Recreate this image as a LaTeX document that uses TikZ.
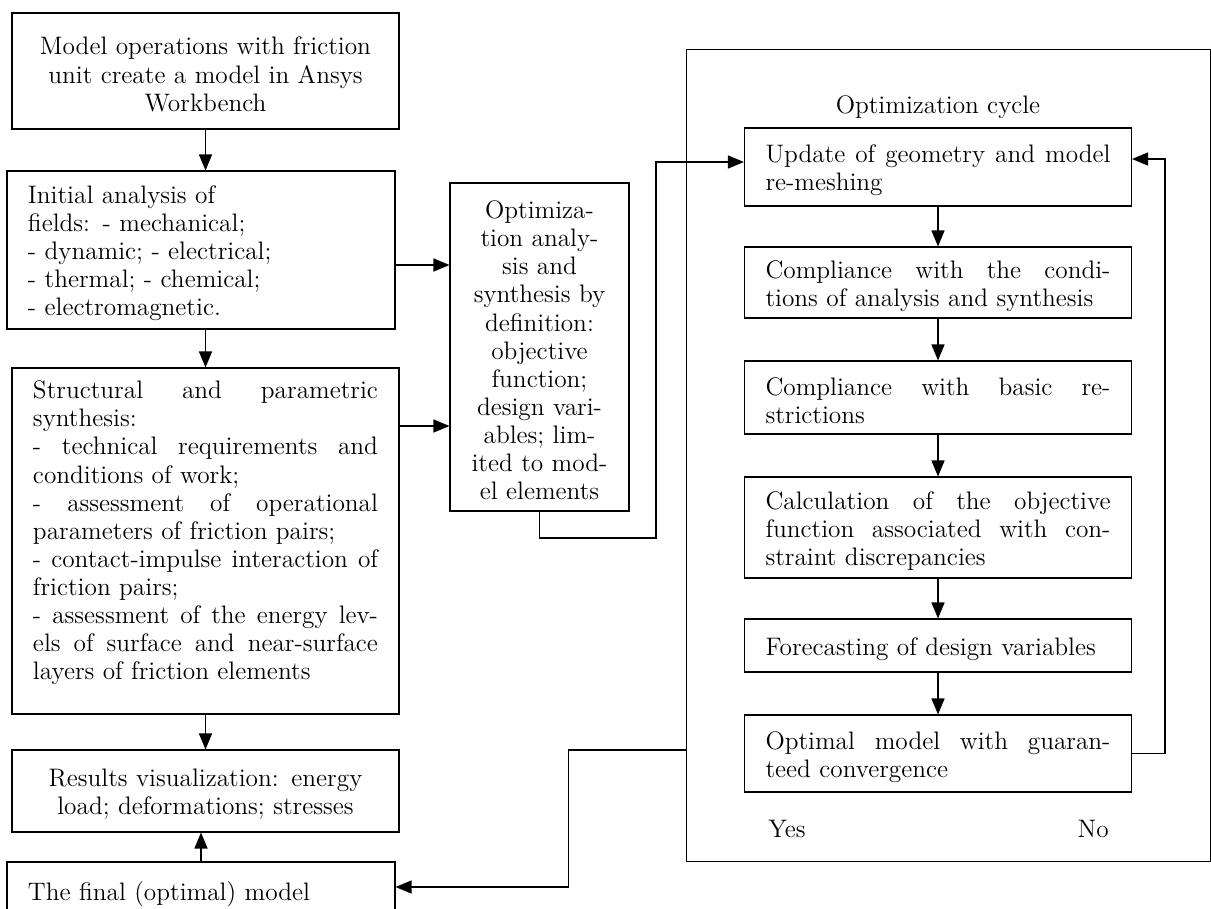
\documentclass[tikz,border=0pt]{standalone}
\usepackage{fontspec}
\usepackage{tikz}
\usetikzlibrary{arrows.meta}
\tikzset{%
    block/.style={%
        draw, line width=0.6pt, inner xsep=4.2mm, inner ysep=0pt,
        font=\fontsize{14.4}{16}\selectfont,
        execute at begin node={\rule{0pt}{14pt}}
    },
    link/.style={->, line width=0.8pt, >={Triangle[length=3.2mm,width=2.6mm]}},
    cycletext/.style={inner sep=0pt, font=\fontsize{14.4}{16}\selectfont}
}
\newcommand{\fullline}[1]{\makebox[\hsize][s]{\spaceskip=0pt\relax #1}}

\begin{document}
\begin{tikzpicture}[x=0.2mm,y=-0.2mm]
    \useasboundingbox (0,0) rectangle (1211,909);
%-----------------------------------------------
    \node[block, text width=69mm, minimum height=23.2mm, align=center,
        execute at begin node={}] (model) at (205.5,71)
        {Model operations with friction\\ unit create a model in Ansys\\ Workbench};
    \node[block, text width=69.2mm, minimum height=31.6mm, align=left] (initial) at (201,250)
        {Initial analysis of\\ fields: - mechanical;\\ - dynamic; - electrical;\\
         - thermal; - chemical;\\ - electromagnetic.};
    \node[block, text width=69mm, minimum height=69.2mm, align=left] (struct) at (205.5,541)
        {\fullline{Structural and parametric}\\
         synthesis:\\
         \fullline{- technical requirements and}\\
         conditions of work;\\
         \fullline{- assessment of operational}\\
         parameters of friction pairs;\\
         \fullline{- contact-impulse interaction of}\\
         friction pairs;\\
         \fullline{- assessment of the energy lev-}\\
         \fullline{els of surface and near-surface}\\
         layers of friction elements\\
         \mbox{}};
    \node[block, text width=69mm, minimum height=16.4mm, align=center] (results) at (205.5,791)
        {Results visualization: energy\\ load; deformations; stresses};
    \node[block, text width=69.2mm, minimum height=11.6mm, align=left] (final) at (201,891)
        {The final (optimal) model};
%-----------------------------------------------
    \node[block, text width=27.4mm, minimum height=65.6mm, align=center] (optim) at (539.5,347)
        {Optimiza-\\ tion analy-\\ sis and\\ synthesis by\\ definition:\\ objective\\
         function;\\ design vari-\\ ables; lim-\\ ited to mod-\\ el elements};
%-----------------------------------------------
    \node[draw, line width=0.4pt, minimum width=104.8mm, minimum height=162.4mm] (cycle) at (948,455) {};
    \node[cycletext, anchor=base] (title) at (938,113) {Optimization cycle};
    \node[block, text width=69mm, minimum height=15.6mm, align=left] (update) at (938,167)
        {\fullline{Update of geometry and model}\\ re-meshing};
    \node[block, text width=69mm, minimum height=14.2mm, align=left] (conditions) at (938,282.5)
        {\fullline{Compliance with the condi-}\\ tions of analysis and synthesis};
    \node[block, text width=69mm, minimum height=14.6mm, align=left] (restrict) at (938,397.5)
        {\fullline{Compliance with basic re-}\\ strictions};
    \node[block, text width=69mm, minimum height=20.2mm, align=left] (objective) at (938,527.5)
        {\fullline{Calculation of the objective}\\ \fullline{function associated with con-}\\
         straint discrepancies};
    \node[block, text width=69mm, minimum height=10.6mm, align=left] (forecast) at (938,645.5)
        {Forecasting of design variables};
    \node[block, text width=69mm, minimum height=15.4mm, align=left] (optimal) at (938,753.5)
        {\fullline{Optimal model with guaran-}\\ teed convergence};
    \node[cycletext, anchor=base west] (yes) at (768,837) {Yes};
    \node[cycletext, anchor=base east] (no) at (1109,837) {No};
%-----------------------------------------------
    \draw[link] (model.south) -- (model.south |- initial.north);
    \draw[link] (initial.south -| struct.north) -- (struct.north);
    \draw[link] (struct.south) -- (results.north);
    \draw[link] (final.north) -- (final.north |- results.south);
    \draw[link] ([yshift=-3mm]initial.east) -- ([yshift=-3mm]initial.east -| optim.west);
    \draw[link] ([yshift=23mm]struct.east) -- ([yshift=23mm]struct.east -| optim.west);
%-----------------------------------------------
    \coordinate (turn) at (656,538);
    \draw[link] (optim.south) |- (turn) |- ([yshift=1mm]update.west);
%-----------------------------------------------
    \draw[link] (update.south) -- (conditions.north);
    \draw[link] (conditions.south) -- (restrict.north);
    \draw[link] (restrict.south) -- (objective.north);
    \draw[link] (objective.south) -- (forecast.north);
    \draw[link] (forecast.south) -- (optimal.north);
    \draw[link] (optimal.east) -- ++(6.6mm,0) |- ([yshift=1.6mm]update.east);
%-----------------------------------------------
    \coordinate (yesout) at (cycle.west |- 0,750);
    \draw[link] (yesout) -- ++(-23.4mm,0) |- ([yshift=0.8mm]final.east);
\end{tikzpicture}
\end{document}
